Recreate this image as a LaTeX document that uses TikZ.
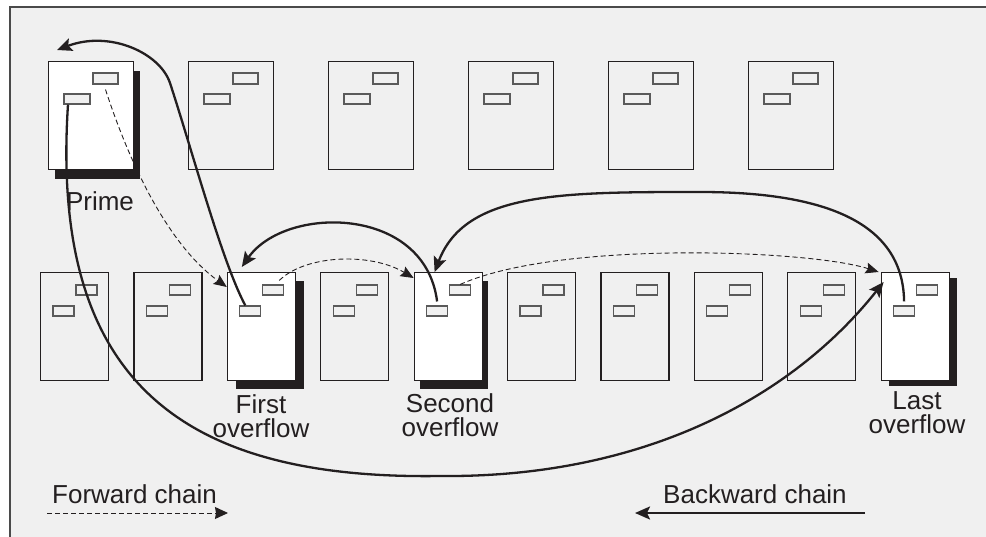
\documentclass[tikz,border=0pt]{standalone}
\usepackage{fontspec}
\setmainfont{Liberation Sans}
\usetikzlibrary{arrows.meta,shadows}
\definecolor{bg}{HTML}{F0F0F0}
\definecolor{ink}{HTML}{231F20}
\definecolor{slot}{HTML}{5A5A5A}
\definecolor{frame}{HTML}{4A4A4A}
\tikzset{
  page/.style={draw=ink,line width=1.1pt,fill=bg,inner sep=0pt,anchor=north west},
  toppage/.style={page,minimum width=85pt,minimum height=108pt},
  botpage/.style={page,minimum width=68pt,minimum height=108pt},
  plain/.style={},
  shadeprime/.style={fill=white,drop shadow={shadow xshift=6pt,shadow yshift=-9pt,opacity=1,fill=ink}},
  shadefirst/.style={fill=white,drop shadow={shadow xshift=9pt,shadow yshift=-8pt,opacity=1,fill=ink}},
  shadesecond/.style={fill=white,drop shadow={shadow xshift=6pt,shadow yshift=-8pt,opacity=1,fill=ink}},
  shadelast/.style={fill=white,drop shadow={shadow xshift=8pt,shadow yshift=-5pt,opacity=1,fill=ink}},
  slotbox/.style={draw=slot,line width=1.1pt,fill=bg,inner sep=0pt,minimum height=10pt},
  lbl/.style={font=\fontsize{26pt}{24pt}\selectfont,text=ink,inner sep=0pt},
  backarrow/.style={draw=ink,line width=2.3pt,-{Stealth[length=15pt,width=13pt,inset=3pt]}},
  fwdarrow/.style={draw=ink,line width=0.9pt,dash pattern=on 5pt off 3pt,-{Stealth[length=13pt,width=11pt,inset=2pt]}}
}
\begin{document}
\begin{tikzpicture}[x=1pt,y=-1pt]
\useasboundingbox (0,0) rectangle (986,537);
\fill[white] (0,0) rectangle (986,537);
\fill[bg] (10,7) rectangle (986,537);
\draw[frame,line width=1.2pt] (10,537) -- (10,7) -- (986,7);

% top row
\foreach \i/\sty in {1/shadeprime,2/plain,3/plain,4/plain,5/plain,6/plain}{
  \node[toppage,\sty] (p\i) at ({48+140*(\i-1)},61) {};
  \node[slotbox,minimum width=25pt,minimum height=11pt] (p\i a) at ([shift={(57.5,17.5)}]p\i.north west) {};
  \node[slotbox,minimum width=26pt] (p\i b) at ([shift={(29,38)}]p\i.north west) {};
}
% bottom row
\foreach \i/\sty in {1/plain,2/plain,3/shadefirst,4/plain,5/shadesecond,6/plain,7/plain,8/plain,9/plain,10/shadelast}{
  \node[botpage,\sty] (o\i) at ({40+93.4*(\i-1)},272) {};
  \node[slotbox,minimum width=21pt] (o\i a) at ([shift={(46.5,18)}]o\i.north west) {};
  \node[slotbox,minimum width=21pt] (o\i b) at ([shift={(23.5,39)}]o\i.north west) {};
}

% labels
\node[lbl,anchor=base] (lprime) at (100,211) {Prime};
\node[lbl,anchor=north,align=center] (lfirst) at (261,394) {First\\overflow};
\node[lbl,anchor=north,align=center] (lsecond) at (450,393) {Second\\overflow};
\node[lbl,anchor=north,align=center] (llast) at (917,391) {Last\\overflow};

% forward chain (dashed)
\draw[fwdarrow] ([yshift=-5pt]p1a.south) .. controls (135,180) and (175,250) .. ([yshift=-15pt]o3.north west);
\draw[fwdarrow] ([shift={(6,-4)}]o3a.north) .. controls (305,255) and (370,252) .. ([shift={(0,6)}]o5.north west);
\draw[fwdarrow] (o5a.north) .. controls (560,240) and (810,250) .. ([xshift=-2pt]o10.north west);

% backward chain (solid)
\draw[backarrow] ([xshift=-9pt]p1b.south) .. controls (50,380) and (180,480) .. (440,476)
   .. controls (640,478) and (790,400) .. ([shift={(3,10)}]o10.north west);
\draw[backarrow] ([xshift=-5pt]o3b.north) .. controls (222,262) and (192,150) .. (170,83)
   .. controls (160,53) and (110,30) .. ([shift={(9,-11)}]p1.north west);
\draw[backarrow] ([yshift=4pt]o5b.north) .. controls (425,205) and (285,205) .. ([shift={(15,-5)}]o3.north west);
\draw[backarrow] ([yshift=4pt]o10b.north) .. controls (903,220) and (820,192) .. (700,192)
   .. controls (560,192) and (465,192) .. ([shift={(21,0)}]o5.north west);

% legend
\node[lbl,anchor=base west] (lfwd) at (52,503) {Forward chain};
\node[lbl,anchor=base west] (lbwd) at (663,503) {Backward chain};
\coordinate (fa) at (47,513);
\coordinate (fb) at (228,513);
\coordinate (ba) at (865,513);
\coordinate (bb) at (635,513);
\draw[fwdarrow,-{Stealth[length=13pt,width=12pt,inset=1pt]}] (fa) -- (fb);
\draw[backarrow] (ba) -- (bb);
\end{tikzpicture}
\end{document}
